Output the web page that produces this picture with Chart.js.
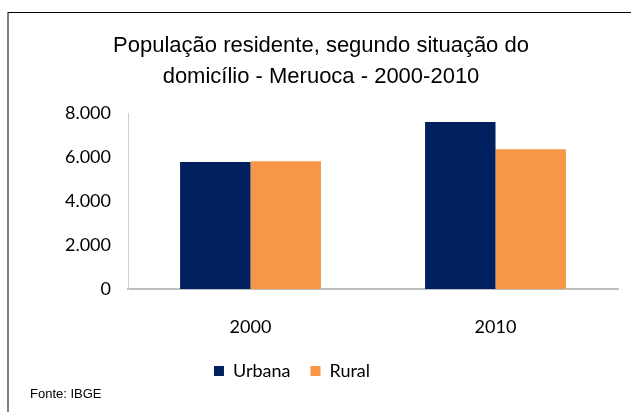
<!DOCTYPE html>
<html>
<head>
<meta charset="utf-8">
<script src="https://cdn.jsdelivr.net/npm/chart.js@4"></script>
<style>
html,body{margin:0;padding:0;background:#fff;}
#wrap{width:631px;height:412px;position:relative;}
</style>
</head>
<body>
<div id="wrap"><canvas id="c" width="631" height="412"></canvas></div>
<script>
const categories = ['2000', '2010'];
const urbana = [5770, 7590];
const rural = [5815, 6360];
const seriesNames = ['Urbana', 'Rural'];
const yTicks = [0, 2000, 4000, 6000, 8000];
const titleLines = ['População residente, segundo situação do', 'domicílio - Meruoca - 2000-2010'];
const sourceNote = 'Fonte: IBGE';

function fmt(v){
  return String(v).replace(/\B(?=(\d{3})+(?!\d))/g, '.');
}

const decor = {
  id: 'decor',
  beforeDraw(chart){
    const ctx = chart.ctx;
    ctx.save();
    ctx.fillStyle = '#fff';
    ctx.fillRect(0,0,chart.width,chart.height);
    ctx.strokeStyle = '#000';
    ctx.lineWidth = 1;
    ctx.strokeRect(8, 12.5, 800, 500);
    ctx.restore();
  },
  afterLayout(chart){
    const lg = chart.legend;
    if (lg) { lg.left -= 29; lg.right -= 29; }
  },
  afterDraw(chart){
    const ctx = chart.ctx;
    ctx.save();
    ctx.font = '13px "Liberation Sans", Arial, sans-serif';
    ctx.fillStyle = '#000';
    ctx.textBaseline = 'middle';
    ctx.textAlign = 'left';
    ctx.fillText(sourceNote, 30, 394);
    ctx.restore();
  }
};

new Chart(document.getElementById('c'), {
  type: 'bar',
  data: {
    labels: categories,
    datasets: [
      {label: seriesNames[0], data: urbana, backgroundColor: '#002060', borderWidth: 0},
      {label: seriesNames[1], data: rural, backgroundColor: '#F79646', borderWidth: 0}
    ]
  },
  options: {
    responsive: false,
    animation: false,
    devicePixelRatio: 1,
    layout: {padding: {left: 24, right: 13, top: 0, bottom: 22}},
    datasets: {bar: {barPercentage: 1, categoryPercentage: 0.575}},
    plugins: {
      tooltip: {enabled: false},
      title: {
        display: true,
        text: titleLines,
        color: '#000',
        font: {family: '"Liberation Sans", Arial, sans-serif', size: 22, weight: 'normal', lineHeight: 1.42},
        padding: {top: 30, bottom: 20.6}
      },
      legend: {
        position: 'bottom',
        labels: {
          color: '#000',
          boxWidth: 10,
          boxHeight: 10,
          padding: 20,
          font: {family: 'Lato, "Open Sans", sans-serif', size: 18}
        }
      }
    },
    scales: {
      x: {
        grid: {display: false, drawTicks: false},
        border: {display: true, color: '#BFBFBF', width: 2},
        ticks: {color: '#000', padding: 27, font: {family: 'Lato, "Open Sans", sans-serif', size: 18}},
        afterFit(s){ s.height = 53; }
      },
      y: {
        min: 0, max: 8000,
        grid: {display: false, drawTicks: false},
        border: {display: true, color: '#D0D0D0', width: 1},
        afterBuildTicks(s){ s.ticks = yTicks.map(v => ({value: v})); },
        ticks: {color: '#000', padding: 17, font: {family: 'Lato, "Open Sans", sans-serif', size: 18}, callback: v => fmt(v)},
        afterFit(s){ s.width = 104; }
      }
    }
  },
  plugins: [decor]
});
</script>
</body>
</html>
